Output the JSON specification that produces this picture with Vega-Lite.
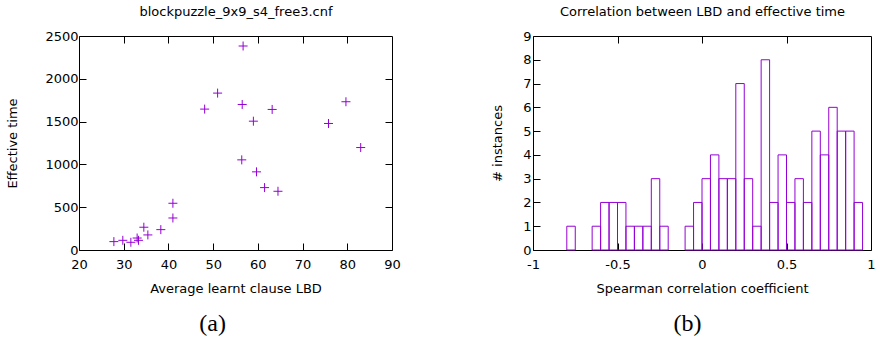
{
  "$schema": "https://vega.github.io/schema/vega-lite/v6.json",
  "padding": {"left": 6, "top": 5, "right": 3, "bottom": 0},
  "background": "white",
  "datasets": {
    "scatter": [
      {"lbd": 27.8, "time": 98},
      {"lbd": 29.8, "time": 113},
      {"lbd": 31.6, "time": 90},
      {"lbd": 33.0, "time": 140},
      {"lbd": 33.3, "time": 113},
      {"lbd": 34.5, "time": 266},
      {"lbd": 35.4, "time": 176},
      {"lbd": 38.3, "time": 238},
      {"lbd": 41.0, "time": 546},
      {"lbd": 41.0, "time": 374},
      {"lbd": 48.1, "time": 1646},
      {"lbd": 51.0, "time": 1833},
      {"lbd": 56.7, "time": 2383},
      {"lbd": 56.5, "time": 1700},
      {"lbd": 56.4, "time": 1053},
      {"lbd": 59.0, "time": 1505},
      {"lbd": 59.7, "time": 913},
      {"lbd": 61.5, "time": 729},
      {"lbd": 63.2, "time": 1642},
      {"lbd": 64.5, "time": 686},
      {"lbd": 75.8, "time": 1478},
      {"lbd": 79.7, "time": 1732},
      {"lbd": 83.0, "time": 1197}
    ],
    "hist": [
      {"lo": -0.80, "hi": -0.75, "count": 1},
      {"lo": -0.65, "hi": -0.60, "count": 1},
      {"lo": -0.60, "hi": -0.55, "count": 2},
      {"lo": -0.55, "hi": -0.50, "count": 2},
      {"lo": -0.50, "hi": -0.45, "count": 2},
      {"lo": -0.45, "hi": -0.40, "count": 1},
      {"lo": -0.40, "hi": -0.35, "count": 1},
      {"lo": -0.35, "hi": -0.30, "count": 1},
      {"lo": -0.30, "hi": -0.25, "count": 3},
      {"lo": -0.25, "hi": -0.20, "count": 1},
      {"lo": -0.10, "hi": -0.05, "count": 1},
      {"lo": -0.05, "hi": 0.00, "count": 2},
      {"lo": 0.00, "hi": 0.05, "count": 3},
      {"lo": 0.05, "hi": 0.10, "count": 4},
      {"lo": 0.10, "hi": 0.15, "count": 3},
      {"lo": 0.15, "hi": 0.20, "count": 3},
      {"lo": 0.20, "hi": 0.25, "count": 7},
      {"lo": 0.25, "hi": 0.30, "count": 3},
      {"lo": 0.30, "hi": 0.35, "count": 1},
      {"lo": 0.35, "hi": 0.40, "count": 8},
      {"lo": 0.40, "hi": 0.45, "count": 2},
      {"lo": 0.45, "hi": 0.50, "count": 4},
      {"lo": 0.50, "hi": 0.55, "count": 2},
      {"lo": 0.55, "hi": 0.60, "count": 3},
      {"lo": 0.60, "hi": 0.65, "count": 2},
      {"lo": 0.65, "hi": 0.70, "count": 5},
      {"lo": 0.70, "hi": 0.75, "count": 4},
      {"lo": 0.75, "hi": 0.80, "count": 6},
      {"lo": 0.80, "hi": 0.85, "count": 5},
      {"lo": 0.85, "hi": 0.90, "count": 5},
      {"lo": 0.90, "hi": 0.95, "count": 2}
    ]
  },
  "config": {
    "view": {"stroke": "black", "strokeWidth": 1},
    "axis": {
      "domain": false,
      "grid": false,
      "tickSize": -7,
      "tickColor": "black",
      "minExtent": 0,
      "labelFlush": false,
      "labelFont": "DejaVu Sans",
      "labelFontSize": 13,
      "labelColor": "black",
      "titleFont": "DejaVu Sans",
      "titleFontSize": 13,
      "titleFontWeight": "normal",
      "titleColor": "black"
    },
    "title": {"font": "Liberation Serif", "fontSize": 24, "fontWeight": "normal", "color": "black", "frame": "bounds", "anchor": "middle"}
  },
  "spacing": 90,
  "hconcat": [
    {
      "width": 313,
      "height": 214,
      "title": {"text": "(a)", "orient": "bottom", "offset": 17, "dx": 9},
      "data": {"name": "scatter"},
      "layer": [
        {
          "mark": {"type": "point", "shape": "M-1,0H1M0,-1V1", "size": 81, "filled": false, "stroke": "#9400D3", "strokeWidth": 1, "opacity": 1},
          "encoding": {
            "x": {"field": "lbd", "type": "quantitative", "scale": {"domain": [20, 90], "nice": false, "zero": false},
                  "axis": {"orient": "bottom", "values": [20, 30, 40, 50, 60, 70, 80, 90], "title": "Average learnt clause LBD", "labelPadding": 15, "titlePadding": 11}},
            "y": {"field": "time", "type": "quantitative", "scale": {"domain": [0, 2500], "nice": false},
                  "axis": {"orient": "left", "values": [0, 500, 1000, 1500, 2000, 2500], "format": "d", "title": "Effective time", "labelPadding": 8, "titlePadding": 25}}
          }
        },
        {
          "mark": {"type": "point", "opacity": 0},
          "encoding": {
            "x": {"field": "lbd", "type": "quantitative",
                  "axis": {"orient": "top", "values": [30, 40, 50, 60, 70, 80], "labels": false, "title": "blockpuzzle_9x9_s4_free3.cnf", "titlePadding": 17}},
            "y": {"field": "time", "type": "quantitative",
                  "axis": {"orient": "right", "values": [500, 1000, 1500, 2000], "labels": false, "title": null}}
          }
        }
      ],
      "resolve": {"axis": {"x": "independent", "y": "independent"}}
    },
    {
      "width": 338,
      "height": 214,
      "title": {"text": "(b)", "orient": "bottom", "offset": 17, "dx": 4},
      "data": {"name": "hist"},
      "layer": [
        {
          "mark": {"type": "bar", "fill": "white", "fillOpacity": 0, "stroke": "#9400D3", "strokeWidth": 1},
          "encoding": {
            "x": {"field": "lo", "type": "quantitative", "scale": {"domain": [-1, 1], "nice": false, "zero": false},
                  "axis": {"orient": "bottom", "values": [-1, -0.5, 0, 0.5, 1], "labelExpr": "'' + datum.value", "title": "Spearman correlation coefficient", "labelPadding": 15, "titlePadding": 11}},
            "x2": {"field": "hi"},
            "y": {"field": "count", "type": "quantitative", "scale": {"domain": [0, 9], "nice": false},
                  "axis": {"orient": "left", "values": [0, 1, 2, 3, 4, 5, 6, 7, 8, 9], "title": "# instances", "labelPadding": 9, "titlePadding": 18}},
            "y2": {"datum": 0}
          }
        },
        {
          "mark": {"type": "point", "opacity": 0},
          "encoding": {
            "x": {"field": "lo", "type": "quantitative",
                  "axis": {"orient": "top", "values": [-0.5, 0, 0.5], "labels": false, "title": "Correlation between LBD and effective time", "titlePadding": 17}},
            "y": {"field": "count", "type": "quantitative", "axis": null}
          }
        }
      ],
      "resolve": {"axis": {"x": "independent", "y": "independent"}}
    }
  ]
}
